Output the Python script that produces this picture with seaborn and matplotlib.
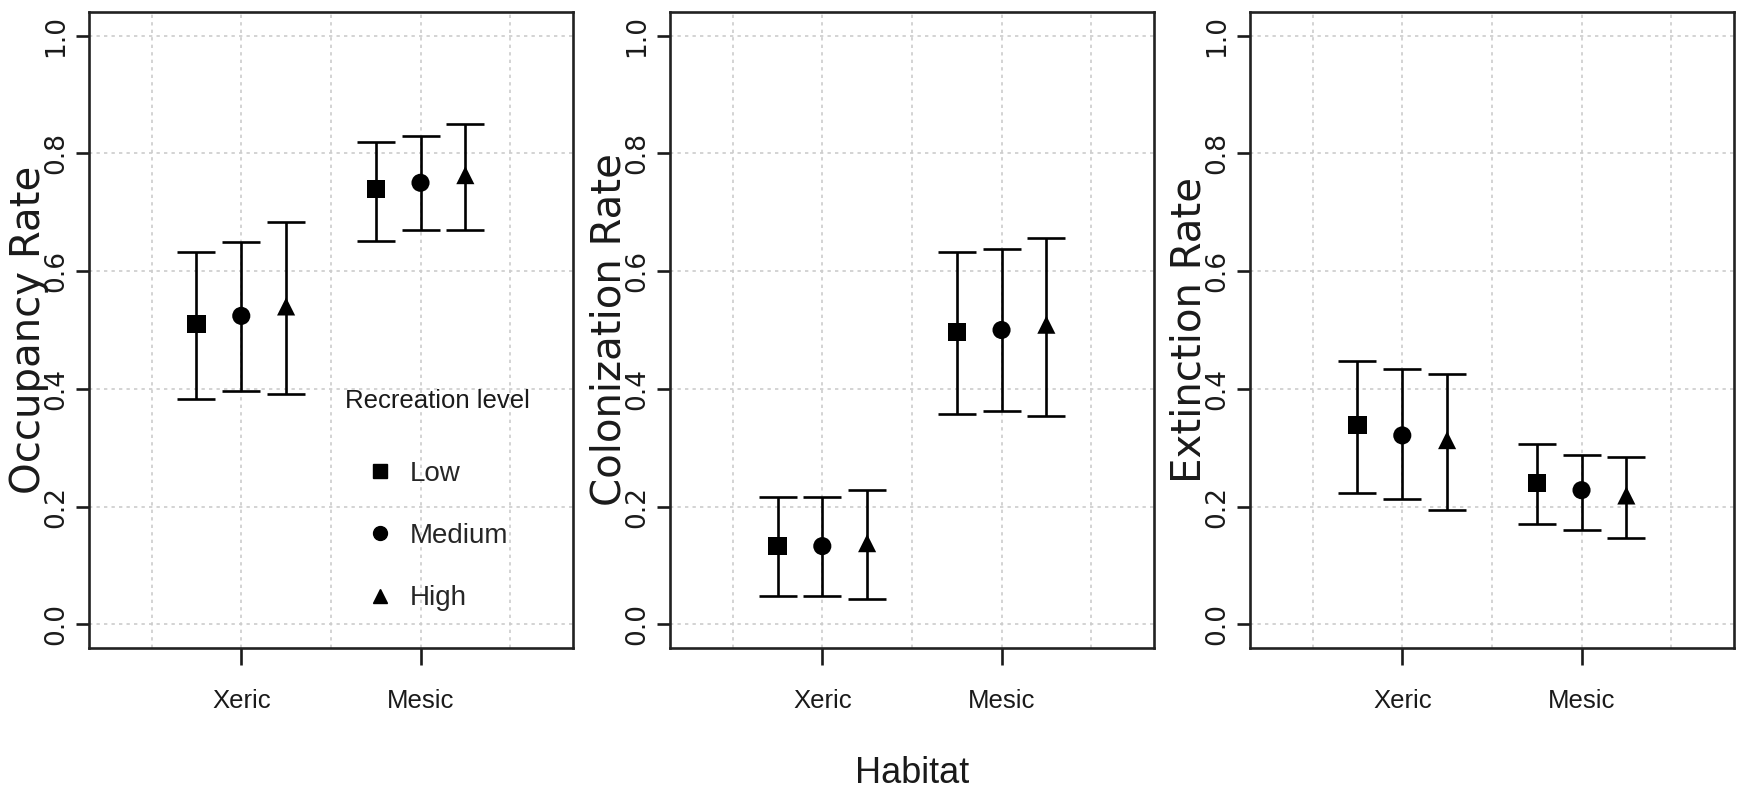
import matplotlib
matplotlib.use('Agg')
import matplotlib.pyplot as plt
from matplotlib.lines import Line2D
import numpy as np
import pandas as pd
import seaborn as sns

habitats = ['Xeric', 'Mesic']
levels = ['Low', 'Medium', 'High']

# estimates with lower/upper limits
# order: Xeric Low, Medium, High, then Mesic Low, Medium, High
occ_est = [0.510, 0.524, 0.540, 0.740, 0.750, 0.763]
occ_lo = [0.382, 0.397, 0.392, 0.651, 0.670, 0.670]
occ_hi = [0.632, 0.650, 0.684, 0.820, 0.829, 0.849]

col_est = [0.133, 0.133, 0.138, 0.497, 0.500, 0.509]
col_lo = [0.048, 0.048, 0.044, 0.358, 0.363, 0.354]
col_hi = [0.217, 0.217, 0.228, 0.632, 0.637, 0.656]

ext_est = [0.338, 0.321, 0.313, 0.240, 0.228, 0.219]
ext_lo = [0.223, 0.213, 0.194, 0.170, 0.160, 0.147]
ext_hi = [0.447, 0.434, 0.425, 0.307, 0.288, 0.284]

yticks = [0.0, 0.2, 0.4, 0.6, 0.8, 1.0]

panels = [('Occupancy Rate', occ_est, occ_lo, occ_hi),
          ('Colonization Rate', col_est, col_lo, col_hi),
          ('Extinction Rate', ext_est, ext_lo, ext_hi)]

sns.set_style('ticks')
plt.rcParams['font.family'] = ['Liberation Sans Narrow', 'Liberation Sans', 'DejaVu Sans']

markers = {'Low': 's', 'Medium': 'o', 'High': '^'}
offset = {'Low': -0.25, 'Medium': 0.0, 'High': 0.25}
hab_pos = {'Xeric': 1, 'Mesic': 2}
grid_kw = dict(color='#cccccc', linestyle=(0, (2, 2.5)), linewidth=1.2)

fig = plt.figure(figsize=(17.37, 7.91), dpi=100)
lefts = [0.0512, 0.3857, 0.7196]

for i, (ylabel, est, lo, hi) in enumerate(panels):
    ax = fig.add_axes([lefts[i], 0.1808, 0.2786, 0.8040])
    df = pd.DataFrame({'habitat': np.repeat(habitats, 3), 'level': levels * 2,
                       'est': est, 'lo': lo, 'hi': hi})
    df['x'] = df['habitat'].map(hab_pos) + df['level'].map(offset)

    ax.errorbar(df['x'], df['est'], yerr=[df['est'] - df['lo'], df['hi'] - df['est']],
                fmt='none', ecolor='black', elinewidth=1.9, capsize=13.7,
                capthick=1.9, zorder=2)
    sns.scatterplot(data=df, x='x', y='est', style='level', markers=markers,
                    style_order=levels, color='black', s=170, linewidth=0,
                    legend=False, zorder=3, ax=ax)

    ax.set_xlim(0.15, 2.85)
    ax.set_ylim(-0.04, 1.04)
    ax.set_xticks([1, 2])
    ax.set_xticklabels(habitats, fontsize=18.5)
    ax.set_xticks([0.5, 1.5, 2.5], minor=True)
    ax.set_yticks(yticks)
    ax.set_yticklabels([f'{v:.1f}' for v in yticks], rotation=90, fontsize=19,
                       family='DejaVu Sans', va='center', ha='right')
    ax.tick_params(axis='x', which='major', length=12.2, width=1.9, pad=17, colors='#1a1a1a')
    ax.tick_params(axis='x', which='minor', length=0)
    ax.tick_params(axis='y', length=9.4, width=1.9, pad=5, colors='#1a1a1a')
    ax.grid(True, axis='x', which='both', **grid_kw)
    ax.grid(True, axis='y', which='major', **grid_kw)
    ax.set_axisbelow(True)
    for sp in ax.spines.values():
        sp.set_visible(True)
        sp.set_linewidth(1.9)
        sp.set_color('#222222')

    ax.set_ylabel(ylabel, fontsize=29, family='DejaVu Sans', color='#1a1a1a')
    ax.yaxis.set_label_coords(-0.0826, 0.5)

    if i == 1:
        ax.set_xlabel('Habitat', fontsize=26, color='#1a1a1a')
        ax.xaxis.label.set_va('baseline')
        ax.xaxis.set_label_coords(0.5, -0.212)
    else:
        ax.set_xlabel('')

    if i == 0:
        handles = [Line2D([], [], marker=markers[l], color='black', linestyle='none',
                          markersize=10) for l in levels]
        ax.legend(handles, levels, loc='upper left', bbox_to_anchor=(0.583, 0.294),
                  frameon=False, fontsize=20, borderpad=0, borderaxespad=0,
                  handlelength=0.65, handletextpad=0.75, labelspacing=1.3)
        ax.text(0.721, 0.378, 'Recreation level', transform=ax.transAxes,
                ha='center', va='baseline', fontsize=18.5, color='#1a1a1a')

fig.savefig('out.png', dpi=100)
